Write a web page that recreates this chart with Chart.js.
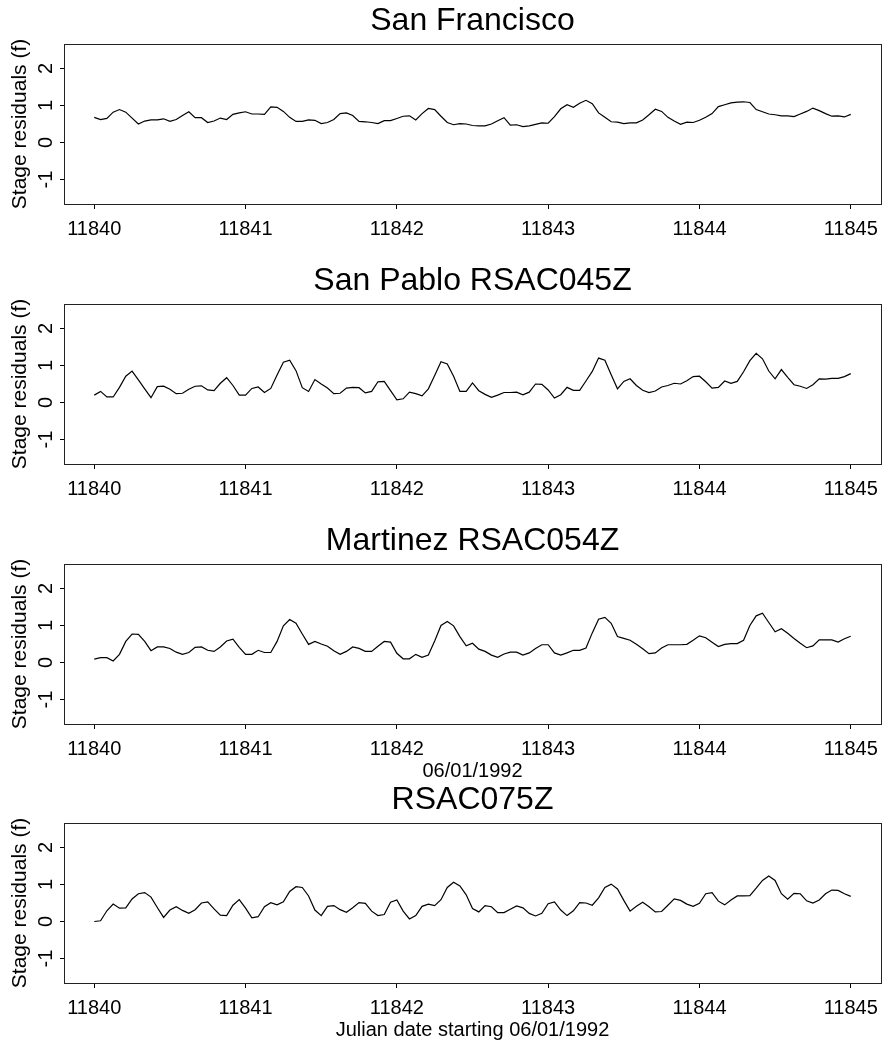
<!DOCTYPE html>
<html>
<head>
<meta charset="utf-8">
<title>Stage residuals</title>
<script src="https://cdn.jsdelivr.net/npm/chart.js@4.4.1/dist/chart.umd.min.js"></script>
<style>
  html, body { margin: 0; padding: 0; background: #fff; overflow: hidden; width: 886px; height: 1043px; }
  canvas { position: absolute; left: 0; }
</style>
</head>
<body>
<canvas id="panel0"></canvas>
<canvas id="panel1"></canvas>
<canvas id="panel2"></canvas>
<canvas id="panel3"></canvas>
<script>
const FONT = "'Liberation Sans', Arial, Helvetica, sans-serif";

// hourly samples, first sample at Julian day 11840
const startDay = 11840;
const samplesPerDay = 24;

const dayTicks = [11840, 11841, 11842, 11843, 11844, 11845];
const residualTicks = [-1, 0, 1, 2];

const stationNames = ['San Francisco', 'San Pablo RSAC045Z', 'Martinez RSAC054Z', 'RSAC075Z'];
const axisTitles = ['', '', '06/01/1992', 'Julian date starting 06/01/1992'];

const sanFrancisco = [
  0.68, 0.62, 0.65, 0.82, 0.89, 0.82, 0.66, 0.50, 0.58, 0.61,
  0.61, 0.64, 0.57, 0.62, 0.73, 0.83, 0.67, 0.67, 0.54, 0.58,
  0.66, 0.62, 0.76, 0.80, 0.83, 0.77, 0.77, 0.76, 0.96, 0.95,
  0.84, 0.68, 0.57, 0.57, 0.61, 0.60, 0.51, 0.54, 0.62, 0.78,
  0.80, 0.73, 0.57, 0.56, 0.54, 0.51, 0.59, 0.59, 0.65, 0.71,
  0.72, 0.61, 0.78, 0.92, 0.89, 0.71, 0.54, 0.48, 0.51, 0.50,
  0.46, 0.45, 0.45, 0.50, 0.59, 0.67, 0.47, 0.48, 0.43, 0.45,
  0.49, 0.53, 0.52, 0.70, 0.91, 1.02, 0.95, 1.06, 1.14, 1.05,
  0.80, 0.68, 0.56, 0.55, 0.51, 0.53, 0.53, 0.61, 0.75, 0.90,
  0.84, 0.68, 0.58, 0.49, 0.55, 0.54, 0.60, 0.68, 0.78, 0.97,
  1.02, 1.07, 1.09, 1.10, 1.08, 0.89, 0.83, 0.77, 0.75, 0.72,
  0.72, 0.70, 0.77, 0.84, 0.93, 0.86, 0.78, 0.71, 0.72, 0.69,
  0.76
];

const sanPablo = [
  0.20, 0.30, 0.15, 0.15, 0.41, 0.71, 0.85, 0.61, 0.37, 0.13,
  0.43, 0.44, 0.36, 0.24, 0.25, 0.36, 0.44, 0.45, 0.34, 0.32,
  0.52, 0.67, 0.46, 0.20, 0.20, 0.38, 0.42, 0.27, 0.38, 0.74,
  1.09, 1.14, 0.86, 0.40, 0.30, 0.62, 0.50, 0.39, 0.24, 0.25,
  0.39, 0.41, 0.40, 0.26, 0.30, 0.56, 0.57, 0.32, 0.07, 0.10,
  0.28, 0.24, 0.18, 0.37, 0.73, 1.10, 1.04, 0.71, 0.30, 0.30,
  0.53, 0.32, 0.22, 0.14, 0.20, 0.27, 0.27, 0.28, 0.21, 0.28,
  0.50, 0.49, 0.34, 0.12, 0.21, 0.41, 0.33, 0.33, 0.58, 0.84,
  1.20, 1.14, 0.75, 0.37, 0.57, 0.64, 0.46, 0.33, 0.27, 0.31,
  0.42, 0.46, 0.52, 0.50, 0.59, 0.70, 0.71, 0.56, 0.39, 0.41,
  0.58, 0.52, 0.57, 0.83, 1.13, 1.33, 1.18, 0.85, 0.64, 0.89,
  0.68, 0.48, 0.44, 0.38, 0.48, 0.64, 0.63, 0.65, 0.65, 0.70,
  0.78
];

const martinez = [
  0.09, 0.13, 0.13, 0.04, 0.22, 0.57, 0.77, 0.76, 0.57, 0.32,
  0.42, 0.42, 0.38, 0.28, 0.22, 0.27, 0.41, 0.42, 0.33, 0.30,
  0.42, 0.58, 0.63, 0.41, 0.22, 0.22, 0.33, 0.27, 0.27, 0.57,
  0.99, 1.16, 1.06, 0.77, 0.49, 0.57, 0.50, 0.44, 0.32, 0.22,
  0.30, 0.42, 0.38, 0.30, 0.30, 0.44, 0.57, 0.55, 0.25, 0.10,
  0.10, 0.22, 0.14, 0.20, 0.58, 1.00, 1.11, 0.99, 0.70, 0.45,
  0.52, 0.36, 0.30, 0.20, 0.14, 0.23, 0.28, 0.28, 0.20, 0.26,
  0.38, 0.48, 0.48, 0.26, 0.20, 0.26, 0.33, 0.33, 0.39, 0.80,
  1.17, 1.22, 1.06, 0.70, 0.65, 0.60, 0.49, 0.37, 0.24, 0.26,
  0.39, 0.48, 0.48, 0.48, 0.49, 0.60, 0.72, 0.67, 0.55, 0.43,
  0.49, 0.51, 0.51, 0.60, 1.00, 1.26, 1.33, 1.08, 0.83, 0.91,
  0.79, 0.65, 0.52, 0.40, 0.45, 0.61, 0.61, 0.61, 0.55, 0.64,
  0.71
];

const rsac075 = [
  0.00, 0.02, 0.29, 0.47, 0.36, 0.37, 0.61, 0.75, 0.78, 0.66,
  0.38, 0.11, 0.31, 0.40, 0.30, 0.22, 0.32, 0.50, 0.53, 0.34,
  0.17, 0.16, 0.44, 0.59, 0.36, 0.10, 0.13, 0.40, 0.51, 0.45,
  0.53, 0.81, 0.94, 0.92, 0.69, 0.31, 0.16, 0.41, 0.43, 0.32,
  0.25, 0.37, 0.51, 0.49, 0.28, 0.16, 0.19, 0.52, 0.58, 0.28,
  0.07, 0.16, 0.41, 0.47, 0.43, 0.59, 0.92, 1.06, 0.96, 0.72,
  0.35, 0.26, 0.43, 0.40, 0.24, 0.24, 0.33, 0.42, 0.37, 0.22,
  0.15, 0.22, 0.48, 0.53, 0.31, 0.16, 0.29, 0.51, 0.50, 0.44,
  0.64, 0.92, 1.01, 0.88, 0.57, 0.28, 0.41, 0.52, 0.40, 0.26,
  0.27, 0.44, 0.61, 0.57, 0.47, 0.41, 0.49, 0.75, 0.78, 0.55,
  0.45, 0.58, 0.69, 0.69, 0.70, 0.90, 1.11, 1.23, 1.11, 0.75,
  0.60, 0.76, 0.75, 0.56, 0.50, 0.58, 0.75, 0.85, 0.84, 0.75,
  0.68
];

const stationSeries = [sanFrancisco, sanPablo, martinez, rsac075];

// frame round the plotting region
const frame = {
  id: 'frame',
  afterDraw(chart) {
    const { ctx, chartArea: a } = chart;
    ctx.save();
    ctx.strokeStyle = '#222';
    ctx.lineWidth = 1;
    ctx.strokeRect(Math.round(a.left) + 0.5, Math.round(a.top) + 0.5,
                   Math.round(a.right - a.left), Math.round(a.bottom - a.top));
    ctx.restore();
  }
};

const panelTops = [0, 260, 520, 779];
const panelHeights = [280, 280, 280, 264];
const plotBottom = 204;

function drawPanel(k) {
  const canvas = document.getElementById('panel' + k);
  const h = panelHeights[k];
  canvas.width = 886;
  canvas.height = h;
  canvas.style.top = panelTops[k] + 'px';

  const points = stationSeries[k].map((v, i) => ({ x: startDay + i / samplesPerDay, y: v }));

  new Chart(canvas, {
    type: 'line',
    data: {
      datasets: [{
        data: points,
        borderColor: '#000',
        borderWidth: 1.2,
        pointRadius: 0,
        tension: 0,
        fill: false
      }]
    },
    options: {
      responsive: false,
      animation: false,
      devicePixelRatio: 1,
      layout: { padding: { left: 0, right: 5, top: 0, bottom: 0 } },
      plugins: {
        legend: { display: false },
        tooltip: { enabled: false },
        title: {
          display: true,
          text: stationNames[k],
          fullSize: false,
          color: '#000',
          font: { family: FONT, size: 32, weight: 'normal', lineHeight: 1 },
          padding: { top: 5, bottom: 7 }
        }
      },
      scales: {
        x: {
          type: 'linear',
          min: 11839.8,
          max: 11845.2,
          afterBuildTicks: s => { s.ticks = dayTicks.map(v => ({ value: v })); },
          afterFit: s => { s.height = h - plotBottom; },
          border: { display: false },
          grid: { drawOnChartArea: false, tickLength: 5, tickColor: '#000', color: '#000' },
          ticks: {
            color: '#000',
            font: { family: FONT, size: 20 },
            padding: 8,
            maxRotation: 0,
            autoSkip: false,
            callback: v => String(v)
          },
          title: {
            display: axisTitles[k] !== '',
            text: axisTitles[k],
            color: '#000',
            font: { family: FONT, size: 20, lineHeight: 1 },
            padding: { top: 0, bottom: h - plotBottom - 47 - 10 }
          }
        },
        y: {
          min: -1.66,
          max: 2.66,
          afterBuildTicks: s => { s.ticks = residualTicks.map(v => ({ value: v })); },
          afterFit: s => { s.width = 64; },
          border: { display: false },
          grid: { drawOnChartArea: false, tickLength: 4, tickColor: '#000', color: '#000' },
          ticks: {
            color: '#000',
            font: { family: FONT, size: 20 },
            padding: 5,
            minRotation: 90,
            maxRotation: 90,
            crossAlign: 'center',
            callback: v => String(v)
          },
          title: {
            display: true,
            text: 'Stage residuals (f)',
            color: '#000',
            font: { family: FONT, size: 21, lineHeight: 1 },
            padding: { top: 9.5, bottom: 0 }
          }
        }
      }
    },
    plugins: [frame]
  });
}

for (let k = 0; k < 4; k++) drawPanel(k);
</script>
</body>
</html>
